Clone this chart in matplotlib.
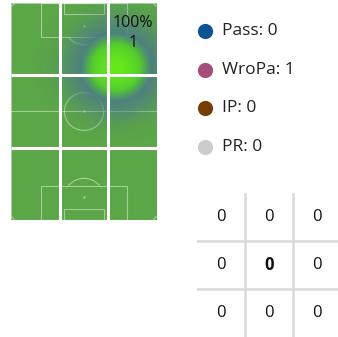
import numpy as np
import matplotlib.pyplot as plt
from matplotlib.colors import LinearSegmentedColormap
from matplotlib.patches import Rectangle, Arc, Ellipse

plt.rcParams['font.family'] = ['Open Sans', 'DejaVu Sans']

# event locations (x across the width 0-68, y along the length 0-105)
event_x = [49.0]
event_y = [74.0]

# events per pitch third, top row first
zone_counts = [[0, 0, 1],
               [0, 0, 0],
               [0, 0, 0]]

legend_labels = ['Pass', 'WroPa', 'IP', 'PR']
legend_counts = [0, 1, 0, 0]
legend_colors = ['#0b5394', '#a64d79', '#783f04', '#cccccc']

table_values = [[0, 0, 0],
                [0, 0, 0],
                [0, 0, 0]]

W, H = 338, 337
fig = plt.figure(figsize=(W / 100, H / 100), dpi=100)


def px_axes(x0, y0, x1, y1):
    # axes placed by pixel box (top-left origin)
    return fig.add_axes([x0 / W, 1 - y1 / H, (x1 - x0) / W, (y1 - y0) / H])


# ---- pitch ----
ax = px_axes(11, 3, 157, 220)
ax.set_xlim(0, 68)
ax.set_ylim(0, 105)
ax.axis('off')
ax.add_patch(Rectangle((0, 0), 68, 105, color='#5ba646', zorder=0))

lc = dict(color='white', alpha=0.45, lw=0.8, fill=False, zorder=1)
ax.add_patch(Rectangle((0.2, 0.2), 67.6, 104.6, **lc))
ax.plot([0, 68], [52.5, 52.5], color='white', alpha=0.45, lw=0.8, zorder=1)
ax.add_patch(Ellipse((34, 52.5), 18.3, 18.3, **lc))
for y0, sgn in [(105, -1), (0, 1)]:
    ax.add_patch(Rectangle((34 - 20.15, min(y0, y0 + sgn * 16.5)), 40.3, 16.5, **lc))
    ax.add_patch(Rectangle((34 - 9.15, min(y0, y0 + sgn * 5.5)), 18.3, 5.5, **lc))
    spot = y0 + sgn * 11
    ax.scatter([34], [spot], s=3, color='white', alpha=0.45, lw=0, zorder=1)
    if sgn < 0:
        ax.add_patch(Arc((34, spot), 18.3, 18.3, theta1=217, theta2=323, **lc))
    else:
        ax.add_patch(Arc((34, spot), 18.3, 18.3, theta1=37, theta2=143, **lc))
ax.scatter([34], [52.5], s=3, color='white', alpha=0.45, lw=0, zorder=1)
for cx, cy, t1 in [(0, 0, 0), (68, 0, 90), (68, 105, 180), (0, 105, 270)]:
    ax.add_patch(Arc((cx, cy), 3, 3, theta1=t1, theta2=t1 + 90, **lc))

# ---- density of events ----
gx, gy = np.meshgrid(np.linspace(0, 68, 300), np.linspace(0, 105, 460))
dens = np.zeros_like(gx)
sigma = 11.5
for ex, ey in zip(event_x, event_y):
    dens += np.exp(-((gx - ex) ** 2 + (gy - ey) ** 2) / (2 * sigma ** 2))
dens /= dens.max()

heat_cmap = LinearSegmentedColormap.from_list('heat', [
    (0.00, (0.30, 0.48, 0.55, 0.0)),
    (0.12, (0.30, 0.48, 0.55, 0.45)),
    (0.35, (0.30, 0.49, 0.52, 0.92)),
    (0.62, (0.33, 0.80, 0.18, 1.0)),
    (1.00, (0.40, 0.91, 0.10, 1.0)),
])
ax.imshow(dens, extent=(0, 68, 0, 105), origin='lower', cmap=heat_cmap,
          vmin=0, vmax=1, aspect='auto', interpolation='bilinear', zorder=2)

# thirds grid
for xv in (68 / 3, 2 * 68 / 3):
    ax.plot([xv, xv], [0, 105], color='white', lw=2.2, zorder=3, solid_capstyle='butt')
for yv in (35, 70):
    ax.plot([0, 68], [yv, yv], color='white', lw=2.2, zorder=3, solid_capstyle='butt')

total = sum(sum(r) for r in zone_counts)
for i, row in enumerate(zone_counts):
    for j, n in enumerate(row):
        if n > 0:
            cx = (j + 0.5) * 68 / 3
            top = 105 - i * 35
            ax.text(cx, top - 9.7, f'{round(100 * n / total)}%', ha='center', va='center',
                    fontsize=11.5, color='#111111', zorder=4)
            ax.text(cx, top - 19.4, f'{n}', ha='center', va='center',
                    fontsize=11.5, color='#111111', zorder=4)

# ---- legend ----
lg = px_axes(190, 12, 338, 165)
lg.set_xlim(190, 338)
lg.set_ylim(165, 12)
lg.axis('off')
for k, (lab, cnt, col) in enumerate(zip(legend_labels, legend_counts, legend_colors)):
    y = 31 + k * 38.7
    lg.scatter([205], [y], s=120, color=col, lw=0)
    lg.text(222, y, f'{lab}: {cnt}', va='center', ha='left', fontsize=12.5, color='#222222')

# ---- table ----
tb = px_axes(197, 193, 341, 337)
tb.set_xlim(0, 3)
tb.set_ylim(3, 0)
tb.axis('off')
for v in (1, 2):
    tb.plot([v, v], [0, 3], color='#d9d9d9', lw=1.8)
    tb.plot([0, 3], [v, v], color='#d9d9d9', lw=1.8)
for i, row in enumerate(table_values):
    for j, val in enumerate(row):
        tb.text(j + 0.5, i + 0.5, str(val), ha='center', va='center', fontsize=12,
                color='#111111', fontweight='bold' if (i, j) == (1, 1) else 'normal')

fig.savefig('out.png', dpi=100)
